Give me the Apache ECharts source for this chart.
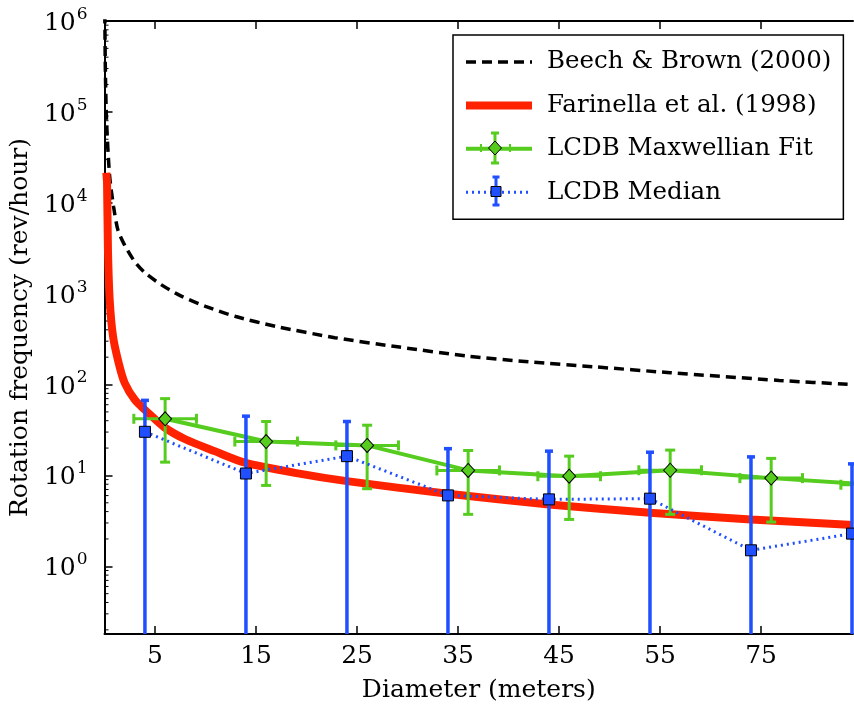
<!DOCTYPE html>
<html>
<head>
<meta charset="utf-8">
<script src="https://cdn.jsdelivr.net/npm/echarts@6/dist/echarts.min.js"></script>
<style>
html,body{margin:0;padding:0;background:#fff;}
#main{width:854px;height:710px;}
</style>
</head>
<body>
<div id="main"></div>
<script>
// ---- tick labels ----
const xTickPos = [5, 15, 25, 35, 45, 55, 65];
const xTickLabels = ['5', '15', '25', '35', '45', '55', '75'];

// ---- Beech & Brown (2000) curve ----
const beechX = [0.03, 0.08, 0.2, 0.5, 0.9, 1.33, 2, 2.97, 4, 5.6, 7.5, 10, 13, 17, 22.8, 29, 36, 42, 48.4, 56, 66.8, 74.1];
const beechY = [1.2e6, 3e5, 8e4, 2e4, 9000, 5000, 3400, 2265, 1700, 1257, 950, 725, 560, 435, 328, 260, 205, 178, 157, 135, 111, 100];

// ---- Farinella et al. (1998) curve ----
const farX = [0.18, 0.25, 0.34, 0.51, 0.84, 1.4, 2.0, 3.0, 4.3, 5.9, 8, 10.9, 13.9, 19, 24, 34, 44, 54, 64, 74.1];
const farY = [21400, 16400, 3040, 860, 340, 173, 104, 68, 49, 34, 25, 18.5, 13.8, 10.6, 8.65, 6.3, 4.8, 3.89, 3.28, 2.84];

// ---- LCDB Maxwellian Fit ----
const maxX = [6, 16, 26, 36, 46, 56, 66, 76];
const maxY = [42, 23.6, 21.4, 11.35, 9.8, 11.4, 9.34, 7.9];
const maxYLow = [14, 7.76, 7.14, 3.73, 3.28, 3.73, 3.07, 2.6];
const maxYHigh = [70, 39.2, 35.7, 18.8, 16.3, 19, 15.4, 13];
const maxXErr = [3.1, 3.1, 3.1, 3.1, 3.1, 3.1, 3.1, 3.1];

// ---- LCDB Median ----
const medX = [4, 14, 24, 34, 44, 54, 64, 74];
const medY = [30.2, 10.5, 16.3, 6.03, 5.45, 5.55, 1.5, 2.29];
const medYHigh = [67, 44.9, 39.2, 19.7, 18.5, 18.0, 16.0, 13.4];
const medYLow = [0.01, 0.01, 0.01, 0.01, 0.01, 0.01, 0.01, 0.01]; // extends below the axis

const FONT = 'DejaVu Serif';
const GREEN = '#55cc1e';
const BLUE = '#1f4fff';
const RED = '#ff2200';

// minor log ticks (axis decoration)
const minorVals = [];
for (let k = -1; k <= 5; k++) {
  for (let m = 2; m <= 9; m++) {
    const v = m * Math.pow(10, k);
    if (v > 0.18 && v < 1e6) minorVals.push(v);
  }
}

function errRender(xs, ys, lo, hi, xerr, color, capW, lw) {
  return function (params, api) {
    const i = params.dataIndex;
    const cs = params.coordSys;
    const y0 = cs.y, y1 = cs.y + cs.height, x0 = cs.x, x1 = cs.x + cs.width;
    const cy = v => Math.min(Math.max(v, y0), y1);
    const cx = v => Math.min(Math.max(v, x0), x1);
    const c = api.coord([xs[i], ys[i]]);
    const children = [];
    const st = { stroke: color, lineWidth: lw };
    if (c[0] >= x0 && c[0] <= x1) {
      const t = api.coord([xs[i], hi[i]])[1];
      const b = api.coord([xs[i], lo[i]])[1];
      children.push({ type: 'line', shape: { x1: c[0], y1: cy(t), x2: c[0], y2: cy(b) }, style: st });
      if (t >= y0 && t <= y1) children.push({ type: 'line', shape: { x1: c[0] - capW, y1: t, x2: c[0] + capW, y2: t }, style: st });
      if (b >= y0 && b <= y1) children.push({ type: 'line', shape: { x1: c[0] - capW, y1: b, x2: c[0] + capW, y2: b }, style: st });
    }
    if (xerr) {
      const l = api.coord([xs[i] - xerr[i], ys[i]])[0];
      const r = api.coord([xs[i] + xerr[i], ys[i]])[0];
      if (r > x0 && l < x1) {
        children.push({ type: 'line', shape: { x1: cx(l), y1: c[1], x2: cx(r), y2: c[1] }, style: st });
        if (l >= x0 && l <= x1) children.push({ type: 'line', shape: { x1: l, y1: c[1] - capW, x2: l, y2: c[1] + capW }, style: st });
        if (r >= x0 && r <= x1) children.push({ type: 'line', shape: { x1: r, y1: c[1] - capW, x2: r, y2: c[1] + capW }, style: st });
      }
    }
    return { type: 'group', children: children };
  };
}

const chart = echarts.init(document.getElementById('main'), null, { renderer: 'canvas' });

const axisLineStyle = { color: '#000', width: 2 };
const hiddenSym = { opacity: 0 };

const option = {
  backgroundColor: '#fff',
  animation: false,
  textStyle: { fontFamily: FONT },
  grid: { left: 101, top: 21, right: 1, bottom: 76, containLabel: false },
  xAxis: [
    {
      type: 'value', min: 0, max: 74.1, position: 'bottom',
      axisLine: { onZero: false, lineStyle: axisLineStyle },
      axisTick: { inside: true, length: 8, customValues: xTickPos, lineStyle: { color: '#000', width: 1.5 } },
      axisLabel: {
        customValues: xTickPos,
        formatter: v => { const i = xTickPos.indexOf(v); return i >= 0 ? xTickLabels[i] : ''; },
        fontFamily: FONT, fontSize: 25, color: '#000', margin: 10
      },
      splitLine: { show: false },
      name: 'Diameter (meters)', nameLocation: 'middle', nameGap: 44,
      nameTextStyle: { fontFamily: FONT, fontSize: 25, color: '#000' }
    },
    {
      type: 'value', min: 0, max: 74.1, position: 'top',
      axisLine: { onZero: false, lineStyle: axisLineStyle },
      axisTick: { inside: true, length: 8, customValues: xTickPos, lineStyle: { color: '#000', width: 1.5 } },
      axisLabel: { show: false },
      splitLine: { show: false }
    }
  ],
  yAxis: {
    type: 'log', logBase: 10, min: 0.18, max: 1e6,
    axisLine: { onZero: false, lineStyle: axisLineStyle },
    axisTick: { inside: true, length: 8, lineStyle: { color: '#000', width: 1.5 } },
    axisLabel: {
      showMinLabel: false,
      margin: 17,
      formatter: v => {
        const e = Math.log10(v);
        if (Math.abs(e - Math.round(e)) > 1e-6) return '';
        return '{b|10}{s|' + Math.round(e) + '}';
      },
      rich: {
        b: { fontFamily: FONT, fontSize: 25, color: '#000', lineHeight: 30, verticalAlign: 'bottom' },
        s: { fontFamily: FONT, fontSize: 17, color: '#000', lineHeight: 30, verticalAlign: 'top', padding: [0, 0, 0, 1] }
      }
    },
    splitLine: { show: false },
    minorTick: { show: false },
    name: 'Rotation frequency (rev/hour)', nameLocation: 'middle', nameGap: 55, nameRotate: 90,
    nameTextStyle: { fontFamily: FONT, fontSize: 25, color: '#000' }
  },
  legend: {
    orient: 'vertical', left: 453, top: 35,
    data: [
      { name: 'Beech & Brown (2000)', itemStyle: hiddenSym, lineStyle: { color: '#000', width: 3.5, type: [10, 6] } },
      { name: 'Farinella et al. (1998)', itemStyle: hiddenSym, lineStyle: { color: RED, width: 8 } },
      { name: 'LCDB Maxwellian Fit', itemStyle: hiddenSym, lineStyle: { color: GREEN, width: 4 } },
      { name: 'LCDB Median', itemStyle: hiddenSym, lineStyle: { color: BLUE, width: 3, type: [2, 4] } }
    ],
    backgroundColor: '#fff', borderColor: '#000', borderWidth: 1.5, borderRadius: 0,
    padding: [12, 12, 12, 9],
    itemWidth: 66, itemHeight: 16, itemGap: 13.4,
    textStyle: { fontFamily: FONT, fontSize: 24.5, color: '#000', lineHeight: 30, padding: [0, 0, 0, 10] },
    selectedMode: false,
    z: 10
  },
  graphic: [
    // error-bar glyphs and markers in the legend icons
    { type: 'line', z: 100, shape: { x1: 495, y1: 133, x2: 495, y2: 163 }, style: { stroke: GREEN, lineWidth: 3 } },
    { type: 'line', z: 100, shape: { x1: 491, y1: 133, x2: 499, y2: 133 }, style: { stroke: GREEN, lineWidth: 3 } },
    { type: 'line', z: 100, shape: { x1: 491, y1: 163, x2: 499, y2: 163 }, style: { stroke: GREEN, lineWidth: 3 } },
    { type: 'line', z: 100, shape: { x1: 481, y1: 144, x2: 481, y2: 152 }, style: { stroke: GREEN, lineWidth: 2 } },
    { type: 'line', z: 100, shape: { x1: 510, y1: 144, x2: 510, y2: 152 }, style: { stroke: GREEN, lineWidth: 2 } },
    { type: 'polygon', z: 101, shape: { points: [[495, 141], [501.5, 148], [495, 155], [488.5, 148]] }, style: { fill: GREEN, stroke: '#000', lineWidth: 1 } },
    { type: 'line', z: 100, shape: { x1: 496, y1: 177, x2: 496, y2: 205 }, style: { stroke: BLUE, lineWidth: 3 } },
    { type: 'line', z: 100, shape: { x1: 492.5, y1: 177, x2: 499.5, y2: 177 }, style: { stroke: BLUE, lineWidth: 3 } },
    { type: 'line', z: 100, shape: { x1: 492.5, y1: 205, x2: 499.5, y2: 205 }, style: { stroke: BLUE, lineWidth: 3 } },
    { type: 'rect', z: 101, shape: { x: 491, y: 186.5, width: 10, height: 10 }, style: { fill: BLUE, stroke: '#000', lineWidth: 1 } }
  ],
  series: [
    {
      name: 'minorTicks', type: 'custom', silent: true, z: 1,
      data: minorVals.map(v => [0, v]),
      renderItem: function (params, api) {
        const p = api.coord([0, api.value(1)]);
        return { type: 'line', shape: { x1: p[0], y1: p[1], x2: p[0] + 4, y2: p[1] }, style: { stroke: '#000', lineWidth: 1 } };
      }
    },
    {
      name: 'Beech & Brown (2000)', type: 'line', z: 2, smooth: 0.25,
      data: beechX.map((x, i) => [x, beechY[i]]),
      showSymbol: false, symbol: 'none',
      lineStyle: { color: '#000', width: 3.5, type: [10, 6] },
      itemStyle: { color: '#000' }
    },
    {
      name: 'Farinella et al. (1998)', type: 'line', z: 3, smooth: 0.25,
      data: farX.map((x, i) => [x, farY[i]]),
      showSymbol: false, symbol: 'none',
      lineStyle: { color: RED, width: 8 },
      itemStyle: { color: RED }
    },
    {
      name: 'maxErr', type: 'custom', z: 4, silent: true,
      data: maxX.map((x, i) => [x, maxY[i]]),
      renderItem: errRender(maxX, maxY, maxYLow, maxYHigh, maxXErr, GREEN, 5, 3)
    },
    {
      name: 'LCDB Maxwellian Fit', type: 'line', z: 5,
      data: maxX.map((x, i) => [x, maxY[i]]),
      symbol: 'diamond', symbolSize: [13, 14], showSymbol: true,
      lineStyle: { color: GREEN, width: 4 },
      itemStyle: { color: GREEN, borderColor: '#000', borderWidth: 1 }
    },
    {
      name: 'medErr', type: 'custom', z: 6, silent: true,
      data: medX.map((x, i) => [x, medY[i]]),
      renderItem: errRender(medX, medY, medYLow, medYHigh, null, BLUE, 4, 3.5)
    },
    {
      name: 'LCDB Median', type: 'line', z: 7,
      data: medX.map((x, i) => [x, medY[i]]),
      symbol: 'rect', symbolSize: 11, showSymbol: true,
      lineStyle: { color: BLUE, width: 3, type: [2, 4] },
      itemStyle: { color: BLUE, borderColor: '#000', borderWidth: 1 }
    }
  ]
};
chart.setOption(option);
</script>
</body>
</html>
